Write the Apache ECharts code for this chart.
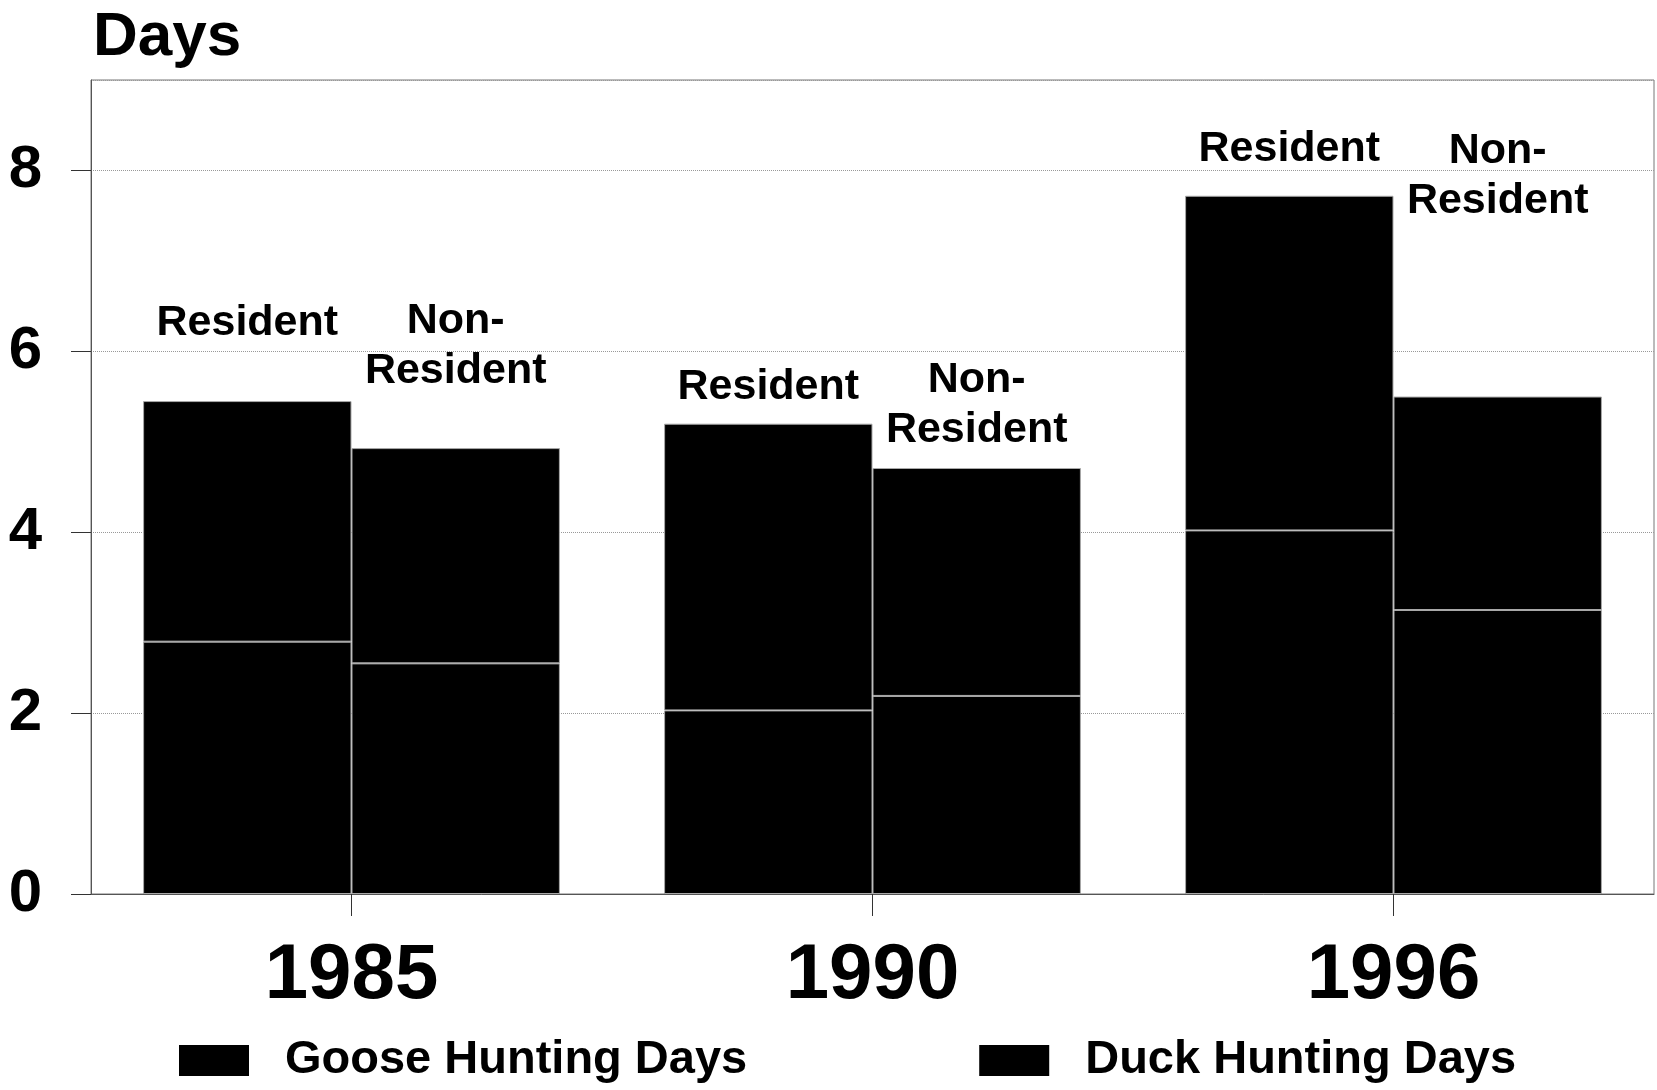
<!DOCTYPE html>
<html>
<head>
<meta charset="utf-8">
<script src="https://cdn.jsdelivr.net/npm/echarts@6/dist/echarts.min.js"></script>
<style>
  html, body { margin: 0; padding: 0; background: #fff; }
  #huntingDays { width: 1657px; height: 1090px; }
</style>
</head>
<body>
<div id="huntingDays"></div>
<script>
// values
var years = ["1985", "1990", "1996"];
var residentGoose = [2.79, 2.03, 4.02];
var residentDuck = [2.66, 3.17, 3.70];
var nonResidentGoose = [2.55, 2.19, 3.14];
var nonResidentDuck = [2.38, 2.52, 2.36];
var yTicks = [0, 2, 4, 6, 8];
var yMax = 9;

var font = "Liberation Sans";
// labels in the original sit at uneven heights above each bar
var resLabelGap = [53, 12, 22];
var nonLabelGap = [52, 13, 170];

// whole-number steps 0..yMax, used only to place ticks/labels (no tick at the top edge)
var yLevels = [];
for (var i = 0; i <= yMax; i++) yLevels.push(String(i));
function isTick(idx) {
  return yTicks.indexOf(idx) >= 0;
}

function withLabelGap(vals, gaps) {
  return vals.map(function (v, i) {
    return { value: v, label: { distance: gaps[i] } };
  });
}

var barStyle = { color: "#000", borderColor: "#a8a8a8", borderWidth: 1 };
var barLabel = {
  position: "top",
  color: "#000",
  fontFamily: font,
  fontWeight: "bold",
  fontSize: 43,
  lineHeight: 50,
  align: "center"
};

var myChart = echarts.init(document.getElementById("huntingDays"));
myChart.setOption({
  animation: false,
  backgroundColor: "#fff",
  title: {
    text: "Days",
    left: 88,
    top: 2,
    textStyle: { fontFamily: font, fontWeight: "bold", fontSize: 62, color: "#000", lineHeight: 62 }
  },
  legend: {
    left: 174,
    top: 1032,
    itemWidth: 70,
    itemHeight: 31,
    itemGap: 232,
    icon: "rect",
    selectedMode: false,
    data: ["Goose Hunting Days", "Duck Hunting Days"],
    itemStyle: { color: "#000", borderWidth: 0 },
    textStyle: { fontFamily: font, fontWeight: "bold", fontSize: 47, color: "#000", padding: [0, 0, 0, 31] }
  },
  grid: {
    left: 91,
    right: 3,
    top: 80,
    bottom: 196,
    show: true,
    borderColor: "#777",
    borderWidth: 1
  },
  xAxis: {
    type: "category",
    data: years,
    axisLine: { show: true, lineStyle: { color: "#555", width: 1 } },
    axisTick: { show: true, inside: false, alignWithLabel: true, length: 22, lineStyle: { color: "#333", width: 1 } },
    axisLabel: { fontFamily: font, fontWeight: "bold", fontSize: 78, color: "#000", margin: 43 }
  },
  yAxis: [
    {
      type: "value",
      min: 0,
      max: yMax,
      interval: 2,
      axisLine: { show: true, lineStyle: { color: "#555", width: 1 } },
      axisTick: { show: false },
      axisLabel: { show: false },
      splitLine: { show: true, lineStyle: { color: "#999", type: "dotted", width: 1 } }
    },
    {
      type: "category",
      position: "left",
      data: yLevels,
      boundaryGap: false,
      axisLine: { show: false },
      axisTick: { show: true, inside: false, length: 20, interval: isTick, lineStyle: { color: "#333", width: 1 } },
      axisLabel: { interval: isTick, fontFamily: font, fontWeight: "bold", fontSize: 60, color: "#000", margin: 49 },
      splitLine: { show: false }
    }
  ],
  series: [
    {
      name: "Goose Hunting Days",
      type: "bar",
      stack: "res",
      barGap: "0%",
      barCategoryGap: "20%",
      itemStyle: barStyle,
      data: residentGoose
    },
    {
      name: "Duck Hunting Days",
      type: "bar",
      stack: "res",
      itemStyle: barStyle,
      label: Object.assign({ show: true, formatter: "Resident" }, barLabel),
      data: withLabelGap(residentDuck, resLabelGap)
    },
    {
      name: "Goose Hunting Days",
      type: "bar",
      stack: "non",
      itemStyle: barStyle,
      data: nonResidentGoose
    },
    {
      name: "Duck Hunting Days",
      type: "bar",
      stack: "non",
      itemStyle: barStyle,
      label: Object.assign({ show: true, formatter: "Non-\nResident" }, barLabel),
      data: withLabelGap(nonResidentDuck, nonLabelGap)
    }
  ]
});
</script>
</body>
</html>
